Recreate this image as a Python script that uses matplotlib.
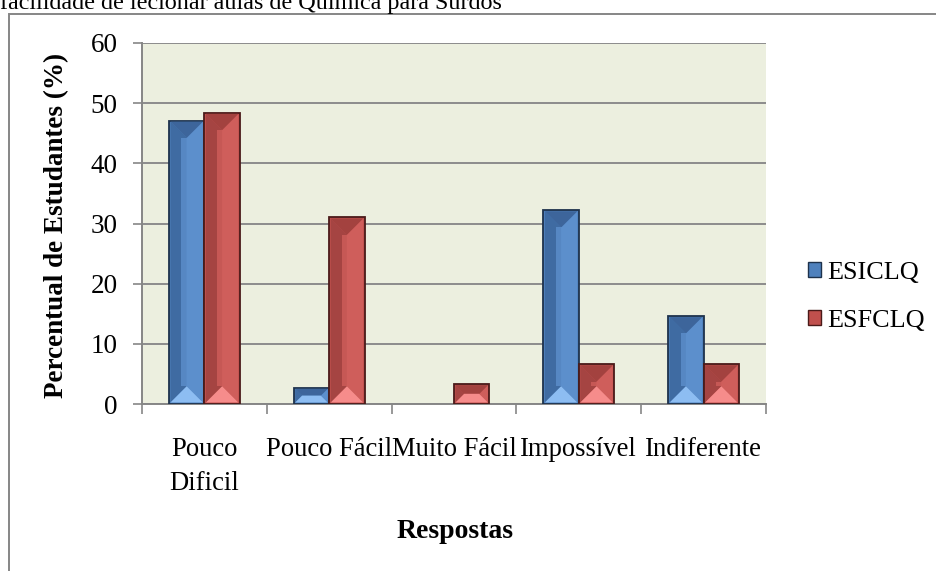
import matplotlib
matplotlib.use("Agg")
import matplotlib.pyplot as plt
from matplotlib.patches import Polygon, Rectangle, Patch
from matplotlib.transforms import IdentityTransform
import numpy as np

categories = ["Pouco\nDificil", "Pouco Fácil", "Muito Fácil", "Impossível", "Indiferente"]
esiclq = [47.1, 2.7, 0.0, 32.2, 14.6]
esfclq = [48.4, 31.0, 3.3, 6.6, 6.6]
series_names = ["ESICLQ", "ESFCLQ"]
yticks = [0, 10, 20, 30, 40, 50, 60]
title_text = "facilidade de lecionar aulas de Química para Surdos"
ylabel_text = "Percentual de Estudantes (%)"
xlabel_text = "Respostas"

plt.rcParams['font.family'] = ['Liberation Serif', 'DejaVu Serif']

W, H = 936, 571
fig = plt.figure(figsize=(W / 100, H / 100), dpi=100)
fig.patch.set_facecolor("white")

# chart frame
fig.add_artist(Rectangle((8.5 / W, -0.2), 1.5, 1 - 13.5 / H + 0.2, transform=fig.transFigure,
                         facecolor="none", edgecolor="#868686", linewidth=1.4, clip_on=False))
fig.text(0.0, 1 - 9.5 / H, title_text, fontsize=17.4, ha="left", va="baseline", color="black")

L, R, T, B = 142, 766, 43, 404
ax = fig.add_axes([L / W, 1 - B / H, (R - L) / W, (B - T) / H])
ax.set_facecolor("#ECEFDF")

x = np.arange(len(categories))
bw = 0.284
styles = [
    dict(base="#4F81BD", edge="#1E324C", left="#3F6BA2", right="#5C8FCC", bottom="#8DBDF2", top="#3D659B"),
    dict(base="#C0504D", edge="#4A1A19", left="#A54442", right="#CF5E5B", bottom="#F68C8B", top="#A3423F"),
]
bars_all = []
for vals, off, st in [(esiclq, -bw / 2, styles[0]), (esfclq, bw / 2, styles[1])]:
    bars = ax.bar(x + off, vals, width=bw, color=st["base"], edgecolor=st["edge"], linewidth=1.3, zorder=3)
    for p in bars.patches:
        if p.get_height() <= 0:
            p.set_linewidth(0)
            p.set_visible(False)
    bars_all.append((bars, st))

ax.set_xlim(-0.5, len(categories) - 0.5)
ax.set_ylim(0, 60)
ax.set_yticks(yticks)
ax.set_yticklabels([str(v) for v in yticks], fontsize=19.5)
ax.yaxis.grid(True, color="#8C8C8C", linewidth=1.4, zorder=0)
ax.set_axisbelow(True)
for s in ["top", "right"]:
    ax.spines[s].set_visible(False)
for s in ["left", "bottom"]:
    ax.spines[s].set_color("#868686")
    ax.spines[s].set_linewidth(1.4)
ax.tick_params(axis="y", direction="out", length=6.5, width=1.2, color="#868686", pad=11, labelsize=19.5)
ax.set_xticks(x)
ax.set_xticklabels(categories, fontsize=19.2)
ax.tick_params(axis="x", which="major", length=0, pad=24)
for t in ax.get_xticklabels():
    t.set_linespacing(1.45)
    t.set_multialignment("center")
ax.set_xticks(np.arange(-0.5, len(categories), 1.0), minor=True)
ax.tick_params(axis="x", which="minor", direction="out", length=7, width=1.2, color="#868686")

# bevel overlay computed from the bar patches in display space
for bars, st in bars_all:
    for p in bars.patches:
        x0, y0 = p.get_x(), p.get_y()
        x1, y1 = x0 + p.get_width(), y0 + p.get_height()
        if p.get_height() <= 0:
            continue
        (l, b) = ax.transData.transform((x0, y0))
        (r, t) = ax.transData.transform((x1, y1))
        l += 1.5; r -= 1.5; b += 1.5; t -= 1.0
        w, h = r - l, t - b
        if w <= 0 or h <= 0:
            continue
        d = min(w, h) / 2
        faces = [
            ([(l, b), (l + d, b + d), (l + d, t - d), (l, t)], st["left"]),
            ([(r, b), (r - d, b + d), (r - d, t - d), (r, t)], st["right"]),
            ([(l, t), (r, t), (r - d, t - d), (l + d, t - d)], st["top"]),
            ([(l, b), (r, b), (r - d, b + d), (l + d, b + d)], st["bottom"]),
        ]
        for pts, c in faces:
            ax.add_patch(Polygon(pts, closed=True, transform=IdentityTransform(), facecolor=c,
                                 edgecolor="none", zorder=4, clip_on=False))
        if h > w:
            cx = (l + r) / 2
            sw = w * 0.16
            ax.add_patch(Polygon([(cx - sw, b + d), (cx + sw, b + d), (cx + sw, t - d), (cx - sw, t - d)],
                                 closed=True, transform=IdentityTransform(), facecolor=st["right"],
                                 edgecolor="none", zorder=4, alpha=0.8, clip_on=False))

fig.text(57 / W, 1 - 225 / H, ylabel_text, rotation=90, fontsize=19.5, fontweight="bold",
         ha="center", va="center")
fig.text(455 / W, 1 - 532 / H, xlabel_text, fontsize=20, fontweight="bold", ha="center", va="center")

handles = [Patch(facecolor=styles[0]["base"], edgecolor=styles[0]["edge"], linewidth=1.0),
           Patch(facecolor=styles[1]["base"], edgecolor=styles[1]["edge"], linewidth=1.0)]
fig.legend(handles, series_names, loc="center left", bbox_to_anchor=(808 / W, 1 - 297 / H),
           frameon=False, fontsize=18.8, handlelength=0.5, handleheight=0.5, handletextpad=0.25,
           labelspacing=1.0, borderpad=0, borderaxespad=0)

fig.savefig("out.png", dpi=100)
